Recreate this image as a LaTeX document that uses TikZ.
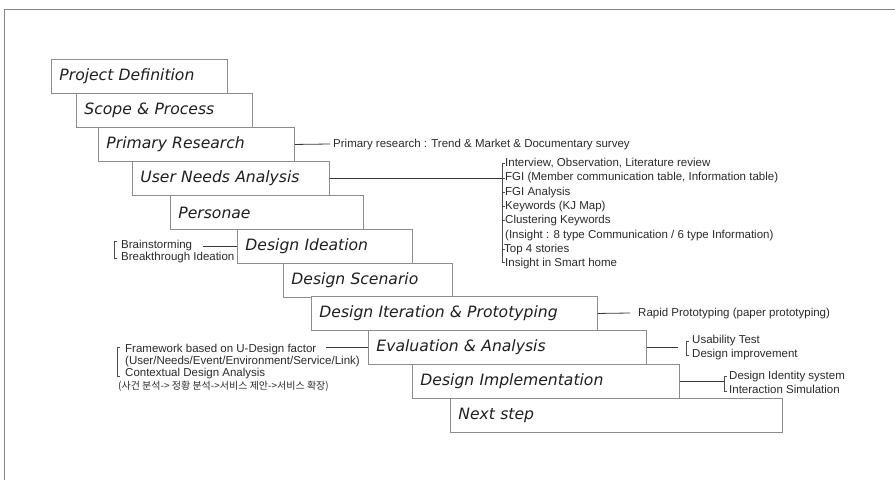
\documentclass[tikz,border=0pt]{standalone}
\usepackage{fontspec}
\setmainfont{Liberation Sans}
\newfontfamily\stagefont{DejaVu Sans}
\newfontfamily\krfont{Noto Sans CJK KR}
\usetikzlibrary{calc}
\definecolor{boxgray}{HTML}{8C8C8C}
\definecolor{framegray}{HTML}{858585}
\definecolor{inkgray}{HTML}{2A2A2A}
\begin{document}
\begin{tikzpicture}[x=1pt,y=-1pt,
  stagebox/.style={draw=boxgray, line width=0.9pt, fill=white, anchor=north west,
    minimum height=34pt, inner xsep=8pt, inner ysep=0pt, align=left,
    font=\stagefont\itshape\fontsize{15.6}{17}\selectfont, text=black!88},
  note/.style={anchor=west, inner sep=0pt, text height=8.5pt, text depth=2.5pt,
    font=\fontsize{11.5}{13}\selectfont, text=inkgray},
  krnote/.style={note, font=\krfont\fontsize{10}{12}\selectfont},
  link/.style={draw=black!78, line width=0.8pt},
  brace/.style={draw=black!70, line width=0.6pt}]
\useasboundingbox (0,0) rectangle (895,480);

% page frame
\draw[framegray, line width=0.8pt] (4,480) -- (4,9) -- (895,9);

% process stages, each one starting where the previous one ends
\node[stagebox, text width=160pt] (pd)   at (51,59)  {Project Definition};
\node[stagebox, text width=160pt] (sp)   at (76,93)  {Scope \& Process};
\node[stagebox, text width=180pt] (pr)   at (98,127) {Primary Research};
\node[stagebox, text width=181pt] (una)  at (132,161) {User Needs Analysis};
\node[stagebox, text width=177pt] (per)  at (170,195) {Personae};
\node[stagebox, text width=159pt] (di)   at (237,229) {Design Ideation};
\node[stagebox, text width=153pt] (ds)   at (283,263) {Design Scenario};
\node[stagebox, text width=270pt] (dip)  at (311,296) {Design Iteration \& Prototyping};
\node[stagebox, text width=262pt] (ea)   at (368,330) {Evaluation \& Analysis};
\node[stagebox, text width=251pt] (dimp) at (412,364) {Design Implementation};
\node[stagebox, text width=316pt] (ns)   at (450,398) {Next step};

% primary research note
\node[note] (prn) at (333,144) {Primary research : Trend \& Market \& Documentary survey};
\draw[link] (pr.east) -- ([xshift=-3pt]prn.west);

% user needs analysis list
\node[note] (u1) at (505,163.5) {Interview, Observation, Literature review};
\node[note] (u2) at (505,177.8) {FGI (Member communication table, Information table)};
\node[note] (u3) at (505,192.1) {FGI Analysis};
\node[note] (u4) at (505,206.4) {Keywords (KJ Map)};
\node[note] (u5) at (505,220.7) {Clustering Keywords};
\node[note] (u6) at (505,235.0) {(Insight : 8 type Communication / 6 type Information)};
\node[note] (u7) at (504,249.3) {Top 4 stories};
\node[note] (u8) at (505,263.6) {Insight in Smart home};
\coordinate (ubt) at ($(u1.west)+(-3,0)$);
\coordinate (ubb) at ($(u8.west)+(-3,-1.5)$);
\draw[brace] ($(ubt)+(2.5,0)$) -- (ubt) -- (ubb) -- ++(2.5,0);
\foreach \u in {u2,u3,u4,u5,u7}
  \draw[brace] (\u.west -| ubt) -- ++(2.5,0);
\draw[link] (una.east) -- (una.east -| ubt);

% design ideation notes
\node[note] (bs) at (121,245) {Brainstorming};
\node[note] (bt) at (121,257) {Breakthrough Ideation};
\coordinate (ibt) at ($(bs.west)+(-7,-3.5)$);
\coordinate (ibb) at ($(bt.west)+(-7,1.5)$);
\draw[brace] ($(ibt)+(2.5,0)$) -- (ibt) -- (ibb) -- ++(2.5,0);
\draw[link] (di.west) -- ($(bs.east |- di.west)+(11,0)$);

% rapid prototyping note
\node[note] (rp) at (638,313) {Rapid Prototyping (paper prototyping)};
\draw[link] (dip.east) -- ([xshift=-8pt]rp.west);

% evaluation: framework notes
\node[note] (fw)  at (125,349.5) {Framework based on U-Design factor};
\node[note] (fw2) at (125,361.5) {(User/Needs/Event/Environment/Service/Link)};
\node[note] (cd)  at (125,373.5) {Contextual Design Analysis};
\node[krnote] (kr) at (118,386) {(사건 분석-> 정황 분석->서비스 제안->서비스 확장)};
\coordinate (ebt) at ($(fw.west)+(-8,-2.5)$);
\coordinate (ebb) at ($(cd.west)+(-8,2.5)$);
\draw[brace] ($(ebt)+(2.5,0)$) -- (ebt) -- (ebb) -- ++(2.5,0);
\draw[link] (ea.west) -- ($(fw.east |- ea.west)+(9,0)$);

% evaluation: test notes
\node[note] (ut) at (692,340.5) {Usability Test};
\node[note] (dv) at (692,354) {Design improvement};
\coordinate (tbt) at ($(ut.west)+(-6,0.5)$);
\coordinate (tbb) at ($(dv.west)+(-6,1)$);
\draw[brace] ($(tbt)+(2.5,0)$) -- (tbt) -- (tbb) -- ++(2.5,0);
\draw[link] (ea.east) -- ($(ut.west |- ea.east)+(-14,0)$);

% implementation notes
\node[note] (dis) at (729,376) {Design Identity system};
\node[note] (isn) at (729,390) {Interaction Simulation};
\coordinate (dbt) at ($(dis.west)+(-5,0)$);
\coordinate (dbb) at ($(isn.west)+(-5,1)$);
\draw[brace] ($(dbt)+(2.5,0)$) -- (dbt) -- (dbb) -- ++(2.5,0);
\draw[link] (dimp.east) -- (dimp.east -| dbt);
\end{tikzpicture}
\end{document}
